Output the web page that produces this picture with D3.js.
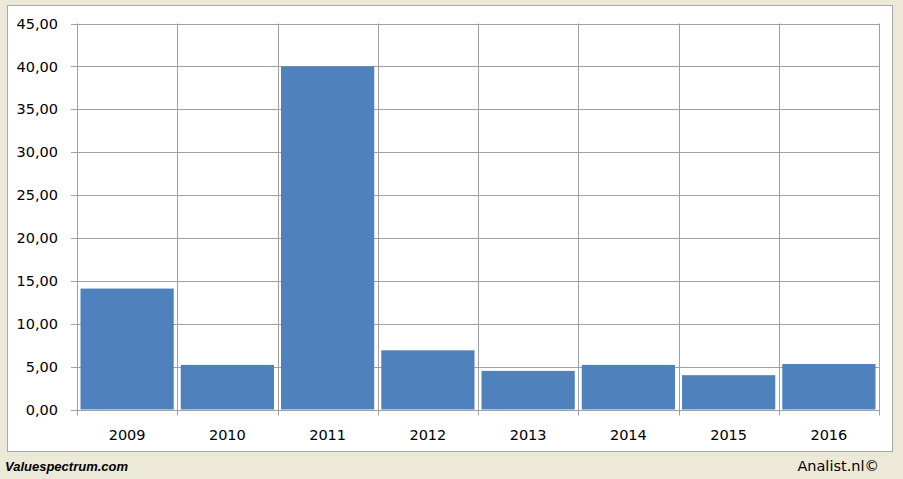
<!DOCTYPE html>
<html><head><meta charset="utf-8">
<script src="https://cdn.jsdelivr.net/npm/d3@7"></script>
<style>html,body{margin:0;padding:0;background:#ECE9D8;}svg{display:block;}</style>
</head><body>
<script>
const categories = ["2009","2010","2011","2012","2013","2014","2015","2016"];
const values = [14.1, 5.2, 40.0, 6.9, 4.5, 5.2, 4.0, 5.3];
const yTicks = [0,5,10,15,20,25,30,35,40,45];

const W = 903, H = 479;
const svg = d3.select("body").append("svg").attr("width", W).attr("height", H);
svg.append("rect").attr("width", W).attr("height", H).attr("fill", "#ECE9D8");
// panel
svg.append("rect").attr("x", 7.5).attr("y", 5.5).attr("width", 885).attr("height", 446)
  .attr("fill", "#fff").attr("stroke", "#A8A8A8").attr("stroke-width", 1);

const L = 77, R = 879, T = 23.5, B = 409.5;
const x = d3.scaleBand().domain(categories).range([L, R]).paddingInner(0.07).paddingOuter(0.035);
const xb = d3.scaleBand().domain(categories).range([L, R]);
const y = d3.scaleLinear().domain([0, 45]).range([B, T]);

const grid = "#A0A0A0";
// horizontal gridlines
svg.append("g").selectAll("line").data(yTicks).join("line")
  .attr("x1", L - 6).attr("x2", R).attr("y1", d => Math.round(y(d)) + 0.5).attr("y2", d => Math.round(y(d)) + 0.5)
  .attr("stroke", grid).attr("stroke-width", 1);
// vertical gridlines at band boundaries
const bounds = categories.map(c => xb(c)).concat([R]);
svg.append("g").selectAll("line").data(bounds).join("line")
  .attr("x1", d => Math.round(d) + 0.5).attr("x2", d => Math.round(d) + 0.5)
  .attr("y1", T).attr("y2", B + 6)
  .attr("stroke", grid).attr("stroke-width", 1);

// bars
svg.append("g").selectAll("rect").data(values).join("rect")
  .attr("x", (d, i) => x(categories[i]))
  .attr("width", x.bandwidth())
  .attr("y", d => y(d))
  .attr("height", d => y(0) - y(d))
  .attr("fill", "#4F81BD");

// y labels
svg.append("g").selectAll("text").data(yTicks).join("text")
  .attr("x", 58).attr("y", d => y(d)).attr("dy", "0.36em")
  .attr("text-anchor", "end")
  .attr("font-family", "'DejaVu Sans', Verdana, sans-serif").attr("font-size", 14.5)
  .attr("fill", "#000")
  .text(d => d3.format(".2f")(d).replace(".", ","));

// x labels
svg.append("g").selectAll("text").data(categories).join("text")
  .attr("x", d => xb(d) + xb.bandwidth() / 2).attr("y", 440)
  .attr("text-anchor", "middle")
  .attr("font-family", "'DejaVu Sans', Verdana, sans-serif").attr("font-size", 14.5)
  .attr("fill", "#000")
  .text(d => d);

// footer
svg.append("text").attr("x", 5).attr("y", 471)
  .attr("font-family", "'Liberation Sans', Arial, sans-serif").attr("font-size", 13)
  .attr("font-weight", "bold").attr("font-style", "italic").attr("fill", "#000")
  .text("Valuespectrum.com");
svg.append("text").attr("x", 879).attr("y", 471).attr("text-anchor", "end")
  .attr("font-family", "'DejaVu Sans', sans-serif").attr("font-size", 14.5).attr("fill", "#000")
  .text("Analist.nl©");
</script>
</body></html>
